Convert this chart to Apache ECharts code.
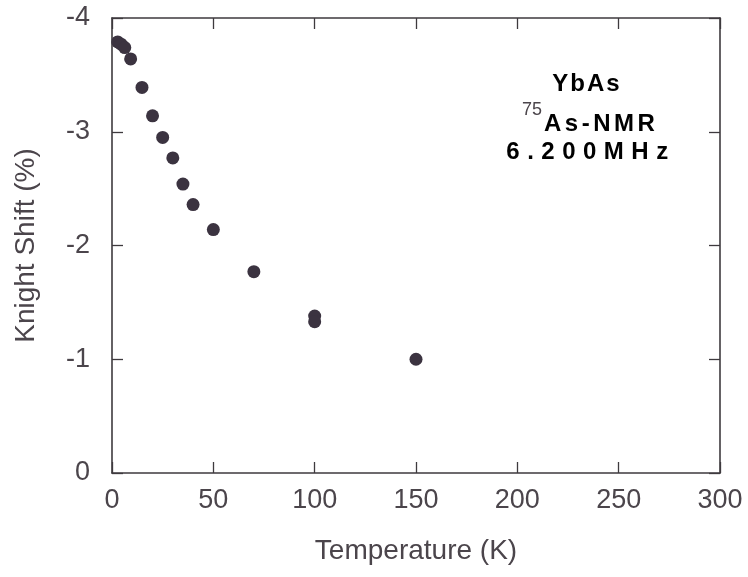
<!DOCTYPE html>
<html><head><meta charset="utf-8">
<script src="https://cdn.jsdelivr.net/npm/echarts@6/dist/echarts.min.js"></script>
<style>html,body{margin:0;padding:0;background:#fff}#c{width:748px;height:577px}</style>
</head><body><div id="c"></div>
<script>
const temperature = [2.8, 4.5, 6.3, 9.2, 14.8, 20, 25, 30, 35, 40, 50, 70, 100, 100, 150];
const knightShift = [-3.79, -3.77, -3.74, -3.64, -3.39, -3.14, -2.95, -2.77, -2.54, -2.36, -2.14, -1.77, -1.38, -1.33, -1.0];
const xTicks = [0, 50, 100, 150, 200, 250, 300];
const yTicks = [-4, -3, -2, -1, 0];
const annotation = ['YbAs', '75', 'As-NMR', '6.200MHz'];

const font = '"Liberation Sans", Arial, Helvetica, sans-serif';
const txt = '#4b454b';
const lineC = '#3e3a3e';
const chart = echarts.init(document.getElementById('c'));
function axisCommon() {
  return {
    axisLine: {show: true, onZero: false, lineStyle: {color: lineC, width: 1.6}},
    axisTick: {show: true, inside: true, length: 11, lineStyle: {color: lineC, width: 1.3}},
    splitLine: {show: false}
  };
}
function spaced(s, name) {
  return s.split('').map(c => '{' + name + '|' + c + '}').join('');
}
function richSpaced(sp) {
  return {fontSize: 24, fontWeight: 'bold', fontFamily: font, color: txt, padding: [0, sp, 0, 0]};
}
chart.setOption({
  animation: false,
  grid: {left: 112, right: 28, top: 18, bottom: 104},
  xAxis: [
    Object.assign({type: 'value', min: xTicks[0], max: xTicks[xTicks.length-1], interval: 50, position: 'bottom',
      axisLabel: {color: txt, fontSize: 27, fontFamily: font, margin: 14},
      name: 'Temperature (K)', nameLocation: 'middle', nameGap: 64,
      nameTextStyle: {color: txt, fontSize: 28, fontFamily: font}}, axisCommon()),
    Object.assign({type: 'value', min: xTicks[0], max: xTicks[xTicks.length-1], interval: 50, position: 'top', axisLabel: {show: false}}, axisCommon())
  ],
  yAxis: [
    Object.assign({type: 'value', min: yTicks[0], max: yTicks[yTicks.length-1], interval: 1, inverse: true, position: 'left',
      axisLabel: {color: txt, fontSize: 27, fontFamily: font, margin: 22},
      name: 'Knight Shift (%)', nameLocation: 'middle', nameGap: 72, nameRotate: 90,
      nameTextStyle: {color: txt, fontSize: 28, fontFamily: font}}, axisCommon()),
    Object.assign({type: 'value', min: yTicks[0], max: yTicks[yTicks.length-1], interval: 1, inverse: true, position: 'right', axisLabel: {show: false}}, axisCommon())
  ],
  series: [{
    type: 'scatter',
    xAxisIndex: 0, yAxisIndex: 0,
    data: temperature.map((t, i) => [t, knightShift[i]]),
    symbol: 'circle', symbolSize: 13,
    itemStyle: {color: '#3b3340', opacity: 1}
  }],
  graphic: [
    {type: 'text', x: 587, y: 72, style: {text: spaced(annotation[0], 'a'), align: 'center', rich: {a: richSpaced(2)}}},
    {type: 'text', x: 542, y: 101, style: {text: annotation[1], align: 'right', fill: txt, fontSize: 18, fontFamily: font}},
    {type: 'text', x: 544, y: 112, style: {text: spaced(annotation[2], 'b'), align: 'left', rich: {b: richSpaced(3.5)}}},
    {type: 'text', x: 591, y: 140, style: {text: spaced(annotation[3], 'c'), align: 'center', rich: {c: richSpaced(7.5)}}}
  ]
});
</script></body></html>
